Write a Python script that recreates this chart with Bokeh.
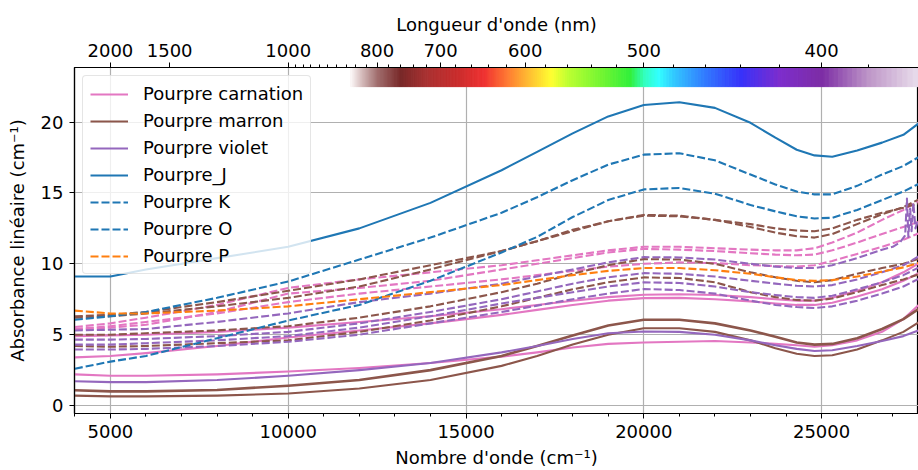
import numpy as np
from bokeh.plotting import figure
from bokeh.models import (LinearAxis, FixedTicker, SingleIntervalTicker, CustomJSTickFormatter,
                          Legend, LegendItem, Range1d)
from bokeh.embed import file_html
from bokeh.resources import INLINE

# ---------------- data ----------------
wavenumber = [4000, 5000, 6000, 8000, 10000, 12000, 14000, 16000, 17000, 18000, 19000, 20000,
              21000, 22000, 23000, 23700, 24300, 24800, 25300, 26000, 26700, 27300, 27778]

# Pourpre carnation (pink)
carnation_solid_1 = [2.2, 2.1, 2.1, 2.2, 2.4, 2.65, 3.0, 3.45, 3.75, 4.1, 4.35, 4.45, 4.5, 4.55, 4.45, 4.35, 4.25, 4.15, 4.25, 4.6, 5.2, 6.1, 7.2]
carnation_solid_2 = [3.4, 3.5, 3.7, 4.2, 4.8, 5.3, 5.8, 6.4, 6.75, 7.1, 7.4, 7.58, 7.6, 7.5, 7.35, 7.2, 7.1, 7.1, 7.25, 7.7, 8.2, 8.8, 9.4]
carnation_solid_3 = [4.9, 4.95, 5.0, 5.2, 5.5, 5.9, 6.3, 6.8, 7.1, 7.4, 7.65, 7.82, 7.85, 7.8, 7.65, 7.5, 7.4, 7.4, 7.6, 8.1, 8.7, 9.4, 10.1]
carnation_dash_1 = [5.54, 5.8, 6.2, 7.1, 8.3, 8.9, 9.4, 9.9, 10.25, 10.6, 10.95, 11.2, 11.2, 11.1, 11.0, 10.95, 10.95, 11.1, 11.5, 12.2, 13.1, 13.8, 14.5]
carnation_dash_2 = [5.35, 5.5, 5.7, 6.6, 7.9, 8.3, 8.8, 9.6, 10.0, 10.4, 10.8, 11.05, 11.0, 10.9, 10.75, 10.65, 10.6, 10.65, 10.95, 11.5, 12.1, 12.6, 13.0]
carnation_dash_3 = [5.4, 5.6, 5.9, 6.5, 7.3, 7.9, 8.4, 8.9, 9.2, 9.5, 9.8, 10.0, 10.1, 10.05, 9.9, 9.85, 9.8, 9.9, 10.2, 10.7, 11.2, 11.7, 12.2]

# Pourpre marron (brown)
marron_solid_1 = [1.08, 1.0, 1.0, 1.1, 1.4, 1.8, 2.5, 3.5, 4.2, 4.95, 5.65, 6.05, 6.05, 5.8, 5.3, 4.85, 4.45, 4.3, 4.35, 4.75, 5.4, 6.1, 6.9]
marron_solid_2 = [0.70, 0.65, 0.65, 0.7, 0.85, 1.2, 1.8, 2.8, 3.5, 4.3, 5.0, 5.45, 5.45, 5.2, 4.6, 4.05, 3.65, 3.5, 3.55, 3.95, 4.6, 5.2, 5.94]
marron_dash_1 = [6.3, 6.4, 6.6, 7.3, 8.1, 8.9, 9.9, 10.9, 11.6, 12.3, 13.0, 13.45, 13.4, 13.1, 12.6, 12.2, 11.95, 11.85, 12.1, 12.8, 13.5, 14.0, 14.6]
marron_dash_2 = [6.2, 6.3, 6.5, 7.0, 7.6, 8.4, 9.6, 10.9, 11.6, 12.4, 13.0, 13.4, 13.35, 13.1, 12.8, 12.5, 12.35, 12.3, 12.5, 13.1, 13.6, 13.95, 14.3]
marron_dash_3 = [5.0, 5.0, 5.1, 5.3, 5.6, 6.2, 7.0, 8.0, 8.6, 9.3, 9.9, 10.33, 10.3, 10.0, 9.4, 9.05, 8.8, 8.7, 8.85, 9.3, 9.7, 10.0, 10.4]
marron_dash_4 = [4.2, 4.15, 4.2, 4.4, 4.6, 5.2, 6.0, 7.0, 7.6, 8.2, 8.7, 9.04, 9.0, 8.7, 8.0, 7.65, 7.45, 7.4, 7.55, 8.0, 8.5, 8.9, 9.3]

# Pourpre violet (purple); the first dashed sample is noisy at the UV end
violet_solid_1 = [1.71, 1.65, 1.65, 1.8, 2.1, 2.5, 3.0, 3.75, 4.2, 4.7, 5.1, 5.23, 5.2, 5.0, 4.6, 4.25, 4.0, 3.85, 3.9, 4.2, 4.55, 4.9, 5.35]
violet_dash_1_x = [4000, 5000, 6000, 8000, 10000, 12000, 14000, 16000, 17000, 18000, 19000, 20000,
                   21000, 22000, 23000, 23700, 24300, 24800, 25300, 26000, 26700, 27000, 27200,
                   27350, 27400, 27440, 27490, 27530, 27580, 27640, 27700, 27778]
violet_dash_1 = [5.3, 5.35, 5.4, 5.9, 6.5, 7.3, 7.9, 8.6, 9.1, 9.6, 10.1, 10.47, 10.45, 10.3, 10.0, 9.8, 9.7, 9.7, 9.9, 10.4, 11.0, 11.2, 11.5,
                 12.0, 14.6, 11.9, 13.9, 12.3, 14.3, 12.5, 13.0, 12.9]
violet_dash_2 = [4.65, 4.65, 4.7, 4.9, 5.2, 5.8, 6.6, 7.5, 8.05, 8.6, 9.05, 9.34, 9.3, 9.1, 8.8, 8.6, 8.45, 8.4, 8.5, 8.9, 9.4, 9.9, 10.6]
violet_dash_3 = [4.3, 4.3, 4.4, 4.6, 4.9, 5.5, 6.3, 7.2, 7.6, 8.0, 8.4, 8.69, 8.65, 8.4, 8.0, 7.8, 7.65, 7.6, 7.75, 8.2, 8.7, 9.2, 9.8]
violet_dash_4 = [3.95, 3.95, 4.0, 4.2, 4.5, 5.0, 5.8, 6.6, 7.05, 7.5, 7.9, 8.22, 8.15, 7.9, 7.4, 7.1, 6.95, 6.88, 7.0, 7.4, 7.9, 8.4, 9.0]

# Pourpre J, K, O, P
pourpre_J = [9.1, 9.1, 9.6, 10.4, 11.2, 12.5, 14.3, 16.6, 17.9, 19.2, 20.4, 21.2, 21.4, 21.0, 19.95, 18.9, 18.05, 17.65, 17.55, 18.0, 18.55, 19.1, 20.0]
pourpre_K = [6.05, 6.3, 6.6, 7.6, 8.75, 10.3, 11.85, 13.6, 14.7, 15.9, 17.0, 17.7, 17.8, 17.3, 16.3, 15.6, 15.1, 14.9, 14.9, 15.5, 16.3, 16.9, 17.6]
pourpre_O = [2.6, 3.1, 3.5, 4.75, 6.0, 7.1, 8.8, 10.8, 11.9, 13.3, 14.5, 15.25, 15.35, 14.95, 14.15, 13.7, 13.35, 13.2, 13.25, 13.8, 14.5, 15.1, 15.7]
pourpre_P = [6.7, 6.5, 6.5, 6.7, 7.0, 7.5, 8.0, 8.5, 8.85, 9.2, 9.5, 9.7, 9.7, 9.55, 9.3, 9.05, 8.85, 8.8, 8.85, 9.1, 9.45, 9.75, 10.1]

# top axis (wavelength, nm)
wl_major = [2000, 1500, 1000, 800, 700, 600, 500, 400]
wl_minor = [w for w in range(380, 1000, 20) if w not in wl_major]

# spectrum colour strip key points (nm -> rgb)
spec_nm = [360, 380, 400, 420, 440, 460, 480, 490, 500, 510, 530, 560, 575, 600, 620, 645, 680, 720, 760, 800, 830, 850]
spec_rgb = [(235, 225, 238), (190, 150, 200), (125, 45, 165), (125, 45, 205), (55, 50, 250), (50, 120, 255),
            (50, 200, 255), (50, 255, 255), (50, 255, 190), (50, 240, 60), (110, 245, 50), (190, 255, 50),
            (255, 255, 50), (255, 180, 50), (255, 120, 50), (240, 50, 50), (200, 45, 45), (170, 50, 50),
            (120, 40, 40), (160, 110, 110), (215, 190, 190), (250, 245, 245)]

# ---------------- figure ----------------
PINK, BROWN, PURPLE, BLUE, ORANGE = "#e377c2", "#8c564b", "#9467bd", "#1f77b4", "#ff7f0e"
FONT = "DejaVu Sans"
FS = "18px"

Y0, Y1 = -0.56, 23.85
p = figure(width=918, height=470, output_backend="svg", toolbar_location=None,
           x_range=Range1d(3990, 27725), y_range=Range1d(Y0, Y1),
           min_border_left=74, min_border_top=67, min_border_bottom=56, min_border_right=0)
p.outline_line_color = "black"
p.outline_line_width = 1.2
p.background_fill_color = "white"

# spectrum strip
nm = np.arange(360, 852, 2.0)
rr = np.interp(nm, spec_nm, [c[0] for c in spec_rgb])
gg = np.interp(nm, spec_nm, [c[1] for c in spec_rgb])
bb = np.interp(nm, spec_nm, [c[2] for c in spec_rgb])
cols = ["#%02x%02x%02x" % (int(r), int(g), int(b)) for r, g, b in zip(rr, gg, bb)]
p.quad(left=1e7 / (nm + 1.0), right=1e7 / (nm - 1.0), bottom=22.5, top=Y1 + 0.5,
       fill_color=cols, line_color=cols, line_width=1)

def ln(y, color, dash="solid", width=2.1, x=None):
    return p.line(wavenumber if x is None else x, y, line_color=color, line_width=width,
                  line_dash=dash, line_join="round")

D = "8 3"
r_carn = ln(carnation_solid_1, PINK)
ln(carnation_solid_2, PINK)
ln(carnation_solid_3, PINK)
ln(marron_solid_1, BROWN, width=2.6)
r_marr = ln(marron_solid_2, BROWN)
r_viol = ln(violet_solid_1, PURPLE)
r_J = ln(pourpre_J, BLUE)
for s in (carnation_dash_1, carnation_dash_2, carnation_dash_3):
    ln(s, PINK, D)
for s in (marron_dash_1, marron_dash_2, marron_dash_3, marron_dash_4):
    ln(s, BROWN, D)
ln(violet_dash_1, PURPLE, D, x=violet_dash_1_x)
for s in (violet_dash_2, violet_dash_3, violet_dash_4):
    ln(s, PURPLE, D)
r_K = ln(pourpre_K, BLUE, D)
r_O = ln(pourpre_O, BLUE, D)
r_P = ln(pourpre_P, ORANGE, D)

# axes styling
def style_axis(ax):
    ax.axis_line_color = "black"
    ax.axis_line_width = 1.2
    ax.major_tick_line_color = "black"
    ax.minor_tick_line_color = "black"
    ax.major_tick_in = 0
    ax.major_tick_out = 5
    ax.minor_tick_in = 0
    ax.minor_tick_out = 3
    ax.major_label_text_font = FONT
    ax.major_label_text_font_size = FS
    ax.major_label_text_color = "black"
    ax.axis_label_text_font = FONT
    ax.axis_label_text_font_size = FS
    ax.axis_label_text_font_style = "normal"
    ax.axis_label_text_color = "black"
    ax.major_label_standoff = 6

p.xaxis.ticker = SingleIntervalTicker(interval=5000, num_minor_ticks=5)
p.xaxis.axis_label = "Nombre d'onde (cm⁻¹)"
p.xaxis.axis_label_standoff = 6
p.yaxis.ticker = SingleIntervalTicker(interval=5, num_minor_ticks=0)
p.yaxis.axis_label = "Absorbance linéaire (cm⁻¹)"
p.yaxis.axis_label_standoff = 10
for ax in p.xaxis + p.yaxis:
    style_axis(ax)
p.yaxis.minor_tick_line_color = None

top = LinearAxis(ticker=FixedTicker(ticks=[1e7 / w for w in wl_major],
                                    minor_ticks=[1e7 / w for w in wl_minor]),
                 formatter=CustomJSTickFormatter(code="return Math.round(1e7 / tick).toString();"),
                 axis_label="Longueur d'onde (nm)")
style_axis(top)
top.axis_label_standoff = 6
p.add_layout(top, "above")

p.xgrid.grid_line_color = "#b0b0b0"
p.ygrid.grid_line_color = "#b0b0b0"
p.xgrid.grid_line_width = 1.2
p.ygrid.grid_line_width = 1.2

legend = Legend(items=[LegendItem(label="Pourpre carnation", renderers=[r_carn]),
                       LegendItem(label="Pourpre marron", renderers=[r_marr]),
                       LegendItem(label="Pourpre violet", renderers=[r_viol]),
                       LegendItem(label="Pourpre_J", renderers=[r_J]),
                       LegendItem(label="Pourpre K", renderers=[r_K]),
                       LegendItem(label="Pourpre O", renderers=[r_O]),
                       LegendItem(label="Pourpre P", renderers=[r_P])],
                location="top_left")
legend.label_text_font = FONT
legend.label_text_font_size = FS
legend.label_text_color = "black"
legend.glyph_width = 38
legend.glyph_height = 20
legend.label_height = 20
legend.spacing = 6
legend.label_standoff = 15
legend.padding = 7
legend.margin = 8
legend.border_line_color = "#cccccc"
legend.background_fill_alpha = 0.8
if "border_radius" in legend.properties():
    legend.border_radius = 4
p.add_layout(legend)

open("out.html", "w").write(file_html(p, INLINE))
